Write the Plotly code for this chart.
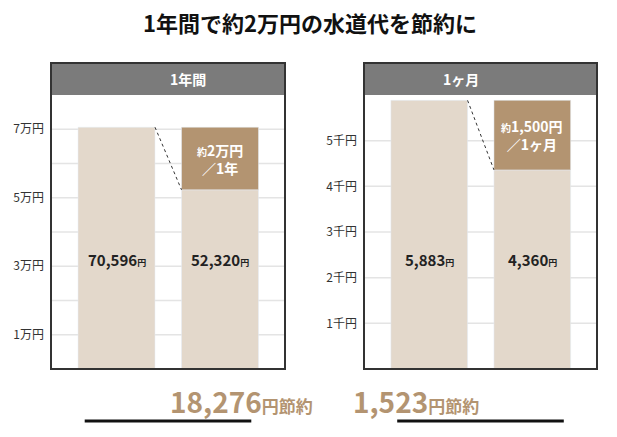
import plotly.graph_objects as go

title = "1年間で約2万円の水道代を節約に"
panels = ["1年間", "1ヶ月"]
before = [70596, 5883]
after = [52320, 4360]
saved = [18276, 1523]
save_labels = ["約2万円<br>／1年", "約1,500円<br>／1ヶ月"]
yticks = [[10000, 30000, 50000, 70000], [1000, 2000, 3000, 4000, 5000]]
yticktext = [["1万円", "3万円", "5万円", "7万円"], ["1千円", "2千円", "3千円", "4千円", "5千円"]]
grid_vals = [[10000 * i for i in range(1, 8)], [1000 * i for i in range(1, 6)]]
yranges = [[0, 80000], [0, 6000]]

LIGHT = "#e3d8cb"
DARK = "#b39471"
FONT = "Noto Sans CJK JP"
BW = 0.744
W, H, OFF = 617, 437, 8

def px(x):
    return (x - OFF) / W

def py(y):
    return 1 - (y - OFF) / H

fig = go.Figure()
doms = [[px(51), px(285)], [px(364), px(597)]]
ybot, ytop, yhead = py(369), py(95), py(63)

for i in range(2):
    xa = "x" if i == 0 else "x2"
    ya = "y" if i == 0 else "y2"
    fig.add_trace(go.Bar(x=[0, 1], y=[before[i], after[i]], marker_color=LIGHT, width=BW,
                         xaxis=xa, yaxis=ya, showlegend=False, hoverinfo="skip"))
    fig.add_trace(go.Bar(x=[1], y=[before[i] - after[i]], base=[after[i]], marker_color=DARK, width=BW,
                         xaxis=xa, yaxis=ya, showlegend=False, hoverinfo="skip"))
    ax = dict(domain=doms[i], range=[-0.633, 1.628], showticklabels=False, showgrid=False,
              zeroline=False, fixedrange=True)
    ay = dict(domain=[ybot, ytop], range=yranges[i], tickvals=yticks[i], ticktext=yticktext[i],
              showgrid=False, zeroline=False, ticks="", ticklabelstandoff=6,
              tickfont=dict(family=FONT, size=12, color="#333"))
    if i == 0:
        fig.update_layout(xaxis=ax, yaxis=ay)
    else:
        ax["anchor"] = "y2"; ay["anchor"] = "x2"
        fig.update_layout(xaxis2=ax, yaxis2=ay)
    for g in grid_vals[i]:
        fig.add_shape(type="line", xref=f"{xa} domain", yref=ya, x0=0, x1=1, y0=g, y1=g,
                      line=dict(color="#e4e4e4", width=1.5), layer="below")
    fig.add_shape(type="line", xref=xa, yref=ya, x0=BW/2, x1=1-BW/2, y0=before[i], y1=after[i],
                  line=dict(color="#333", width=1, dash="dot"))
    fig.add_shape(type="rect", xref="paper", yref="paper", x0=doms[i][0], x1=doms[i][1],
                  y0=ytop, y1=yhead, fillcolor="#7b7b7b", line=dict(width=0))
    fig.add_shape(type="rect", xref="paper", yref="paper", x0=doms[i][0], x1=doms[i][1],
                  y0=ybot, y1=yhead, line=dict(color="#333", width=2))
    xc = (doms[i][0] + doms[i][1]) / 2
    fig.add_annotation(xref="paper", yref="paper", x=xc, y=(ytop+yhead)/2, yanchor="middle",
                       text=f"<b>{panels[i]}</b>",
                       showarrow=False, font=dict(family=FONT, size=14, color="white"))
    for j, v in enumerate([before[i], after[i]]):
        fig.add_annotation(xref=xa, yref=ya, x=j, y=yranges[i][1]*0.40, yanchor="middle",
                           text=f"<b>{v:,}<span style='font-size:9px'>円</span></b>",
                           showarrow=False, font=dict(family=FONT, size=15, color="#222"))
    sl = save_labels[i].replace("約", "<span style='font-size:10px'>約</span>")
    fig.add_annotation(xref=xa, yref=ya, x=1, y=(before[i]+after[i])/2, yanchor="middle",
                       text=f"<b>{sl}</b>",
                       showarrow=False, font=dict(family=FONT, size=14, color="white"))
    fig.add_annotation(xref="paper", yref="paper", x=xc, y=py(401), yanchor="middle",
                       text=f"<b>{saved[i]:,}<span style='font-size:17px'>円節約</span></b>",
                       showarrow=False, font=dict(family=FONT, size=28, color="#b39471"))
    fig.add_shape(type="line", xref="paper", yref="paper", x0=xc-0.135, x1=xc+0.135,
                  y0=py(421), y1=py(421), line=dict(color="#111", width=3))

fig.add_annotation(xref="paper", yref="paper", x=px(310), y=py(22), yanchor="middle",
                   text=f"<b>{title}</b>",
                   showarrow=False, font=dict(family=FONT, size=22, color="#111"))

fig.update_layout(width=W, height=H, margin=dict(l=0, r=0, t=0, b=0), barmode="overlay",
                  plot_bgcolor="white", paper_bgcolor="white")
fig.write_html("out.html")
